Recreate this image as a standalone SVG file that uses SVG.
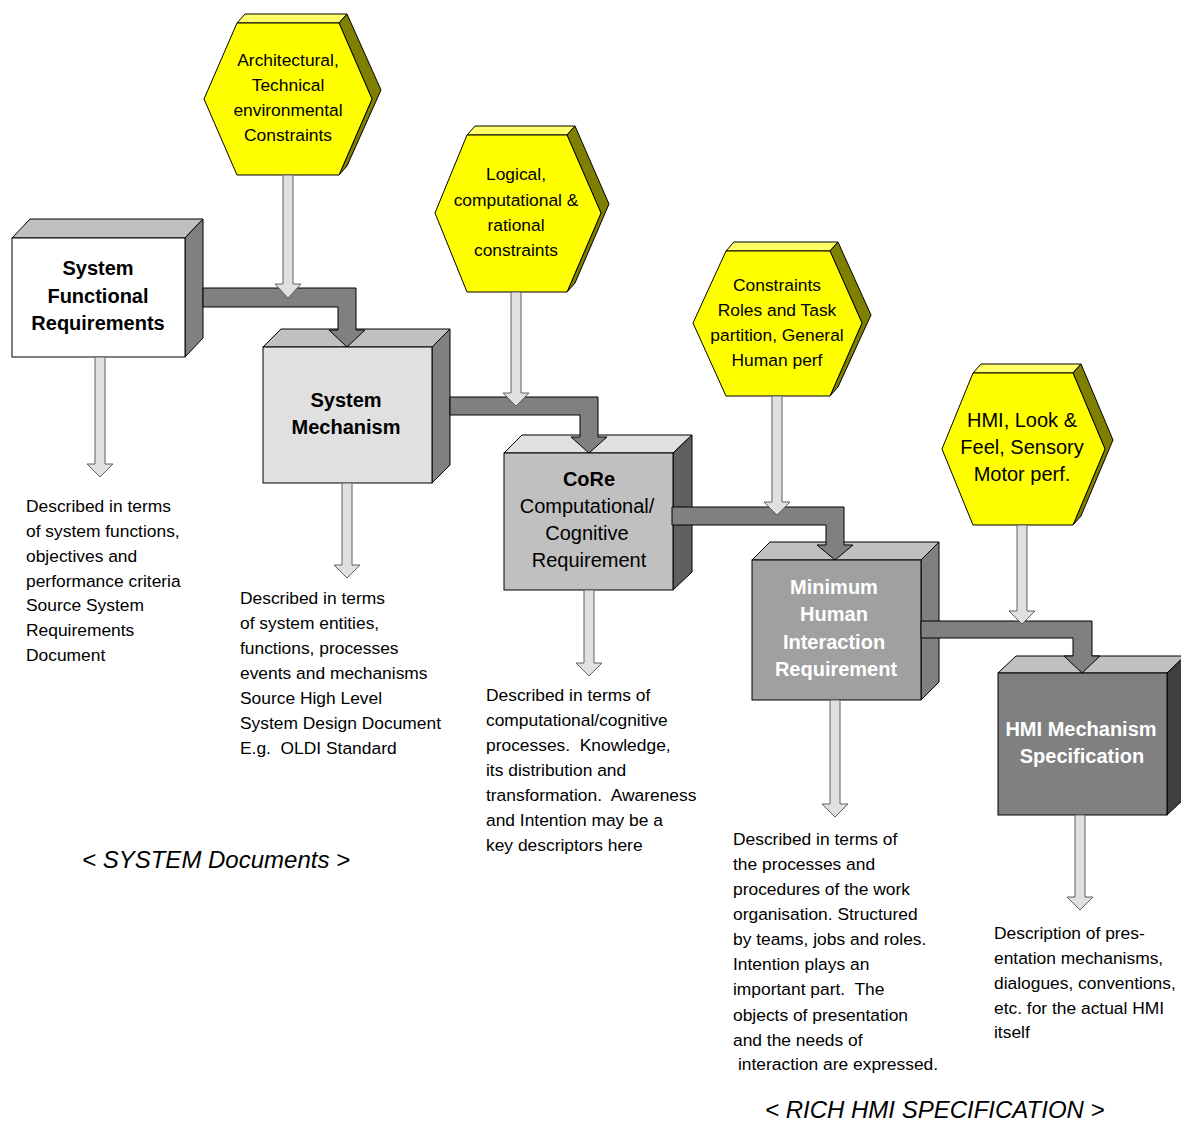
<svg xmlns="http://www.w3.org/2000/svg" width="1181" height="1124" viewBox="0 0 1181 1124">
<defs>
<style>
.ln{stroke:#000;stroke-width:1;stroke-linejoin:miter}
.hexf{fill:#ffff00}
.hext{fill:#ffff66}
.hexs{fill:#808000}
.conn{fill:#808080;stroke:#000;stroke-width:1}
.la{fill:#e0e0e0;stroke:#606060;stroke-width:1}
.t{font-family:"Liberation Sans",Arial,sans-serif;font-size:17.4px;fill:#000}
.ht{font-family:"Liberation Sans",Arial,sans-serif;font-size:17.4px;fill:#000;text-anchor:middle}
.bt{font-family:"Liberation Sans",Arial,sans-serif;font-size:20px;font-weight:bold;text-anchor:middle}
.nt{font-family:"Liberation Sans",Arial,sans-serif;font-size:20px;text-anchor:middle;fill:#000}
.cap{font-family:"Liberation Sans",Arial,sans-serif;font-size:24px;font-style:italic;fill:#000}
</style>
</defs>
<rect width="1181" height="1124" fill="#fff"/>

<!-- hexagons -->
<g id="hex-architectural">
<polygon class="hext ln" points="237,23 245,14 347,14 339,23"/>
<polygon class="hexs ln" points="339,23 347,14 381,90 347,166 339,175 372,99"/>
<polygon class="hexf ln" points="237,23 339,23 372,99 339,175 237,175 204,99"/>
<text class="ht" x="288" y="66">Architectural,</text>
<text class="ht" x="288" y="91">Technical</text>
<text class="ht" x="288" y="116">environmental</text>
<text class="ht" x="288" y="141">Constraints</text>
</g>
<g id="hex-logical">
<polygon class="hext ln" points="467,135 475,126 575,126 567,135"/>
<polygon class="hexs ln" points="567,135 575,126 609,204 575,283 567,292 601,213"/>
<polygon class="hexf ln" points="467,135 567,135 601,213 567,292 467,292 435,213"/>
<text class="ht" x="516" y="180">Logical,</text>
<text class="ht" x="516" y="206">computational &amp;</text>
<text class="ht" x="516" y="231">rational</text>
<text class="ht" x="516" y="256">constraints</text>
</g>
<g id="hex-roles">
<polygon class="hext ln" points="726,251 734,242 838,242 830,251"/>
<polygon class="hexs ln" points="830,251 838,242 871,315 838,387 830,396 862,323"/>
<polygon class="hexf ln" points="726,251 830,251 862,323 830,396 726,396 693,323"/>
<text class="ht" x="777" y="291">Constraints</text>
<text class="ht" x="777" y="316">Roles and Task</text>
<text class="ht" x="777" y="341">partition, General</text>
<text class="ht" x="777" y="366">Human perf</text>
</g>
<g id="hex-hmi">
<polygon class="hext ln" points="973,373 981,364 1081,364 1073,373"/>
<polygon class="hexs ln" points="1073,373 1081,364 1113,440 1081,516 1073,525 1105,449"/>
<polygon class="hexf ln" points="973,373 1073,373 1105,449 1073,525 973,525 942,449"/>
<text class="nt" x="1022" y="427">HMI, Look &amp;</text>
<text class="nt" x="1022" y="454">Feel, Sensory</text>
<text class="nt" x="1022" y="481">Motor perf.</text>
</g>

<!-- boxes -->
<g id="box-sfr">
<polygon class="ln" fill="#c0c0c0" points="12,238 30,219 203,219 185,238"/>
<polygon class="ln" fill="#808080" points="185,238 203,219 203,338 185,357"/>
<rect class="ln" fill="#ffffff" x="12" y="238" width="173" height="119"/>
<text class="bt" x="98" y="275">System</text>
<text class="bt" x="98" y="303">Functional</text>
<text class="bt" x="98" y="330">Requirements</text>
</g>
<g id="box-sm">
<polygon class="ln" fill="#c0c0c0" points="263,347 281,329 450,329 432,347"/>
<polygon class="ln" fill="#808080" points="432,347 450,329 450,465 432,483"/>
<rect class="ln" fill="#e0e0e0" x="263" y="347" width="169" height="136"/>
<text class="bt" x="346" y="407">System</text>
<text class="bt" x="346" y="434">Mechanism</text>
</g>
<g id="box-core">
<polygon class="ln" fill="#e0e0e0" points="504,453 522,435 692,435 673,453"/>
<polygon class="ln" fill="#606060" points="673,453 692,435 692,572 673,590"/>
<rect class="ln" fill="#c0c0c0" x="504" y="453" width="169" height="137"/>
<text class="bt" x="589" y="486">CoRe</text>
<text class="nt" x="587" y="513">Computational/</text>
<text class="nt" x="587" y="540">Cognitive</text>
<text class="nt" x="589" y="567">Requirement</text>
</g>
<g id="box-mhir">
<polygon class="ln" fill="#c0c0c0" points="752,560 770,542 939,542 921,560"/>
<polygon class="ln" fill="#808080" points="921,560 939,542 939,682 921,700"/>
<rect class="ln" fill="#a0a0a0" x="752" y="560" width="169" height="140"/>
<text class="bt" fill="#fff" x="834" y="594">Minimum</text>
<text class="bt" fill="#fff" x="834" y="621">Human</text>
<text class="bt" fill="#fff" x="834" y="649">Interaction</text>
<text class="bt" fill="#fff" x="836" y="676">Requirement</text>
</g>
<g id="box-hmims">
<polygon class="ln" fill="#c0c0c0" points="998,673 1016,656 1185,656 1167,673"/>
<polygon class="ln" fill="#404040" points="1167,673 1185,656 1185,798 1167,815"/>
<rect class="ln" fill="#808080" x="998" y="673" width="169" height="142"/>
<text class="bt" fill="#fff" x="1081" y="736">HMI Mechanism</text>
<text class="bt" fill="#fff" x="1082" y="763">Specification</text>
</g>

<!-- connectors -->
<g id="connectors">
<path class="conn" d="M203,288 H356 V330 H365 L347,347 L329,330 H338 V307 H203 Z"/>
<path class="conn" d="M450,397 H598 V437 H607 L589,453 L571,437 H580 V415 H450 Z"/>
<path class="conn" d="M672,507 H844 V545 H853 L835,560 L817,545 H826 V525 H672 Z"/>
<path class="conn" d="M921,621 H1092 V656 H1100 L1082,673 L1064,656 H1073 V638 H921 Z"/>
<path class="la" d="M283,175 H293 V284 H301 L288,298 L275,284 H283 Z"/>
<path class="la" d="M511,292 H521 V393 H529 L516,406 L503,393 H511 Z"/>
<path class="la" d="M772,396 H782 V502 H790 L777,515 L764,502 H772 Z"/>
<path class="la" d="M1017,525 H1027 V611 H1035 L1022,624 L1009,611 H1017 Z"/>
<path class="la" d="M95,357 H105 V464 H113 L100,477 L87,464 H95 Z"/>
<path class="la" d="M342,483 H352 V565 H360 L347,578 L334,565 H342 Z"/>
<path class="la" d="M584,590 H594 V663 H602 L589,676 L576,663 H584 Z"/>
<path class="la" d="M830,700 H840 V804 H848 L835,817 L822,804 H830 Z"/>
<path class="la" d="M1075,815 H1085 V897 H1093 L1080,910 L1067,897 H1075 Z"/>
</g>

<!-- descriptions -->
<g id="desc-sfr">
<text class="t" x="26" y="512">Described in terms</text>
<text class="t" x="26" y="537">of system functions,</text>
<text class="t" x="26" y="562">objectives and</text>
<text class="t" x="26" y="587">performance criteria</text>
<text class="t" x="26" y="611">Source System</text>
<text class="t" x="26" y="636">Requirements</text>
<text class="t" x="26" y="661">Document</text>
</g>
<g id="desc-sm">
<text class="t" x="240" y="604">Described in terms</text>
<text class="t" x="240" y="629">of system entities,</text>
<text class="t" x="240" y="654">functions, processes</text>
<text class="t" x="240" y="679">events and mechanisms</text>
<text class="t" x="240" y="704">Source High Level</text>
<text class="t" x="240" y="729">System Design Document</text>
<text class="t" x="240" y="754" xml:space="preserve">E.g.  OLDI Standard</text>
</g>
<g id="desc-core">
<text class="t" x="486" y="701">Described in terms of</text>
<text class="t" x="486" y="726">computational/cognitive</text>
<text class="t" x="486" y="751" xml:space="preserve">processes.  Knowledge,</text>
<text class="t" x="486" y="776">its distribution and</text>
<text class="t" x="486" y="801" xml:space="preserve">transformation.  Awareness</text>
<text class="t" x="486" y="826">and Intention may be a</text>
<text class="t" x="486" y="851">key descriptors here</text>
</g>
<g id="desc-mhir">
<text class="t" x="733" y="845">Described in terms of</text>
<text class="t" x="733" y="870">the processes and</text>
<text class="t" x="733" y="895">procedures of the work</text>
<text class="t" x="733" y="920">organisation. Structured</text>
<text class="t" x="733" y="945">by teams, jobs and roles.</text>
<text class="t" x="733" y="970">Intention plays an</text>
<text class="t" x="733" y="995" xml:space="preserve">important part.  The</text>
<text class="t" x="733" y="1021">objects of presentation</text>
<text class="t" x="733" y="1046">and the needs of</text>
<text class="t" x="738" y="1070">interaction are expressed.</text>
</g>
<g id="desc-hmims">
<text class="t" x="994" y="939">Description of pres-</text>
<text class="t" x="994" y="964">entation mechanisms,</text>
<text class="t" x="994" y="989">dialogues, conventions,</text>
<text class="t" x="994" y="1014">etc. for the actual HMI</text>
<text class="t" x="994" y="1038">itself</text>
</g>

<text class="cap" x="82" y="868">&lt; SYSTEM Documents &gt;</text>
<text class="cap" x="765" y="1118">&lt; RICH HMI SPECIFICATION &gt;</text>
</svg>
